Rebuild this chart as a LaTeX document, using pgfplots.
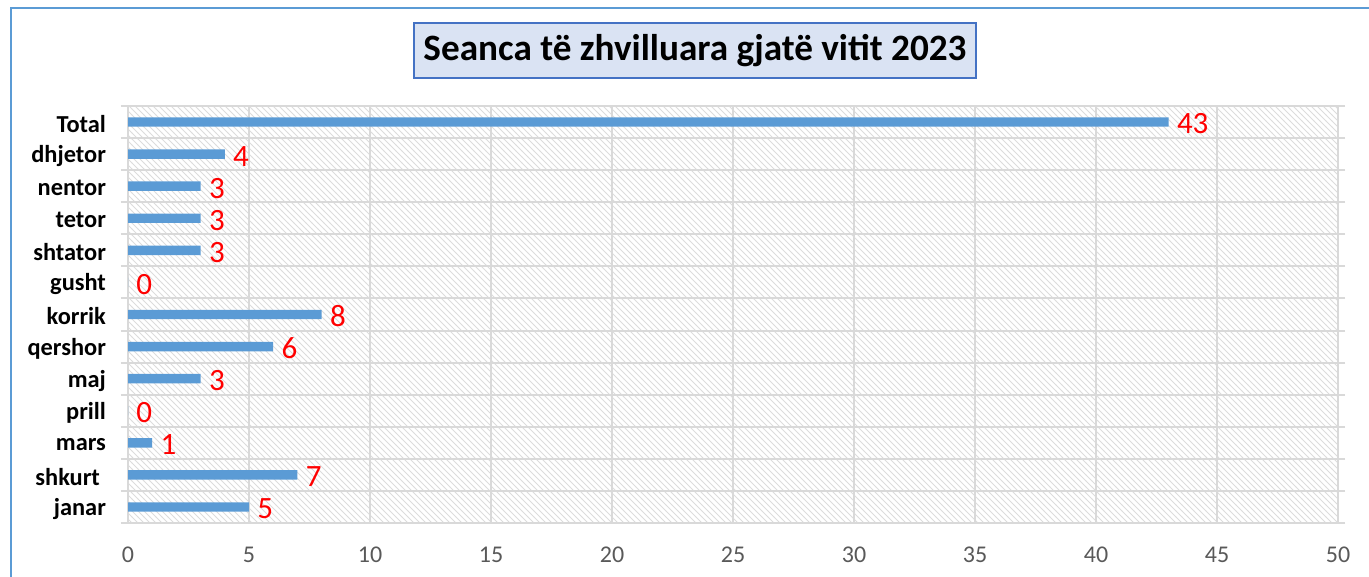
\documentclass[border=0pt]{standalone}
\usepackage{fontspec}
\setmainfont{Carlito}
\usepackage{pgfplots}
\pgfplotsset{compat=1.18}
\usetikzlibrary{patterns}
\definecolor{barblue}{HTML}{5B9BD5}
\definecolor{gridgray}{HTML}{D9D9D9}
\definecolor{ticktext}{HTML}{595959}
\definecolor{titlefill}{HTML}{DAE3F3}
\definecolor{titledraw}{HTML}{4472C4}
\definecolor{hatch}{HTML}{DCDCDC}
\begin{document}
\begin{tikzpicture}
\useasboundingbox (0,0) rectangle (684.5pt,288.5pt);
\draw[barblue, line width=0.8pt] (5.5pt,-10pt) -- (5.5pt,284.5pt) -- (700pt,284.5pt);
\begin{axis}[
  at={(64pt,27pt)}, anchor=south west,
  scale only axis,
  width=605pt, height=208.5pt,
  xbar, bar width=4.7pt,
  xmin=0, xmax=50,
  ymin=-0.5, ymax=12.5,
  xtick={0,5,...,50},
  ytick={0,...,12},
  yticklabels={janar,shkurt\phantom{i},mars,prill,maj,qershor,korrik,gusht,shtator,tetor,nentor,dhjetor,Total},
  minor ytick={-0.5,0.5,...,12.5},
  xmajorgrids, yminorgrids,
  major grid style={gridgray, line width=1pt},
  minor grid style={gridgray, line width=1pt},
  major tick length=0pt,
  minor tick length=3.5pt,
  tick align=outside,
  minor tick style={gridgray, line width=1pt},
  axis line style={gridgray, line width=1pt},
  axis background/.style={pattern=north west lines, pattern color=hatch},
  /pgf/number format/assume math mode=true,
  xticklabel style={font=\fontsize{12}{14}\selectfont, text=ticktext, yshift=-8.5pt},
  yticklabel style={font=\fontsize{12.2}{14}\selectfont\bfseries, text=black, xshift=-7.5pt, yshift=-1pt},
  nodes near coords,
  every node near coord/.append style={font=\fontsize{15.5}{17}\selectfont, text=red, anchor=west, inner sep=0pt, xshift=4pt, yshift=-1pt},
]
\addplot[fill=barblue, draw=none] coordinates {
(5,0) (7,1) (1,2) (0,3) (3,4) (6,5) (8,6) (0,7) (3,8) (3,9) (3,10) (4,11) (43,12)
};
\end{axis}
\node[fill=titlefill, draw=titledraw, line width=1pt, minimum width=281pt, minimum height=27.5pt, inner sep=0pt, font=\fontsize{18.6}{21}\selectfont\bfseries] at (347.5pt,263.25pt) {Seanca të zhvilluara gjatë vitit 2023};
\end{tikzpicture}
\end{document}
